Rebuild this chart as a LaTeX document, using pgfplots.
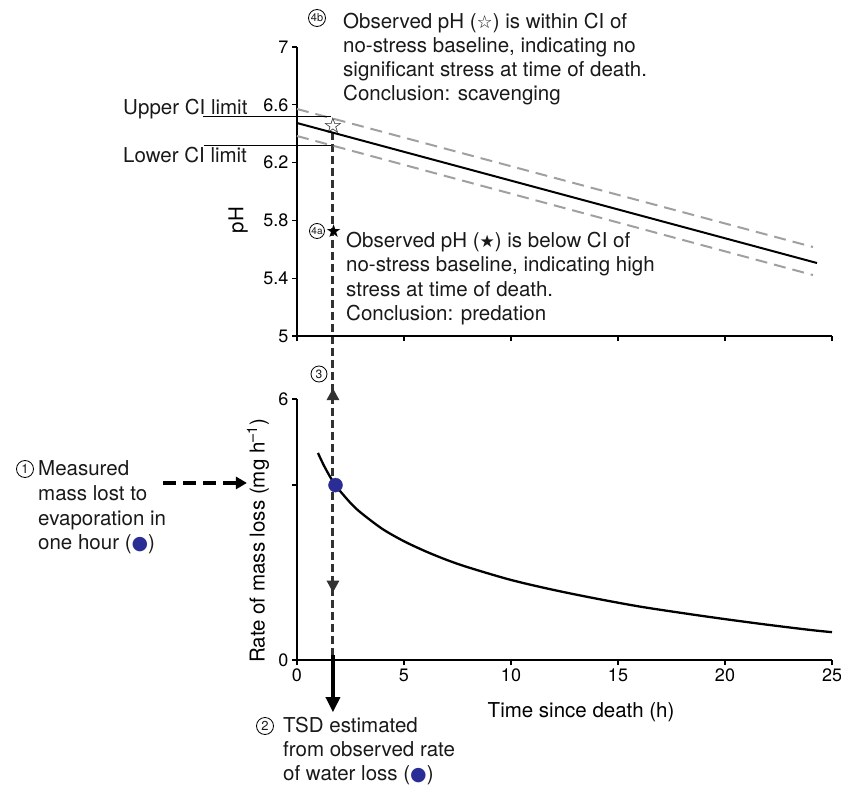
\documentclass[border=0pt]{standalone}
\usepackage{pgfplots}
\pgfplotsset{compat=1.18}
\usepackage{fontspec}
\setmainfont{TeX Gyre Heros}
\newfontfamily\dejavu{DejaVu Sans}
\usetikzlibrary{arrows.meta}
\definecolor{dotblue}{RGB}{43,45,150}
\definecolor{cigray}{RGB}{160,160,160}
\definecolor{dashdark}{RGB}{50,50,50}
\newcommand\txt{\fontsize{20.5}{24}\selectfont}
\newcommand\tk{\fontsize{18}{20}\selectfont}
\pgfplotsset{
  myax/.style={scale only axis, width=535pt, xmin=0, xmax=25,
    axis x line*=bottom, axis y line*=left,
    axis line style={line width=1.3pt, black},
    tick style={line width=1.3pt, black},
    tick align=outside, major tick length=5pt,
    xtick={0,5,10,15,20,25},
    tick label style={font=\tk},
    label style={font=\txt},
    /pgf/number format/assume math mode=true,
    clip=false}
}
\begin{document}
\begin{tikzpicture}
\useasboundingbox (0pt,0pt) rectangle (841pt,-789pt);
% ---------- bottom axis ----------
\begin{axis}[myax, at={(297pt,-660pt)}, anchor=south west, height=261pt, ymin=0, ymax=6,
  xticklabels={0,5,10,15,20,25},
  ytick={0,4.02,6}, yticklabels={0,,6},
  xlabel={Time since death (h)},
  xlabel style={at={(axis description cs:0.531,-0.199)}, anchor=center},
  ylabel={Rate of mass loss (mg h\textsuperscript{–1})},
  ylabel style={at={(axis description cs:-0.073,0.456)}, anchor=center}]
\addplot[dashdark, line width=3pt, dash pattern=on 8pt off 4pt] coordinates {(1.68,12.14) (1.68,0)};
\addplot[dashdark, line width=3pt, -{Triangle[length=12pt,width=12pt]}] coordinates {(1.68,5.95) (1.68,6.25)};
\addplot[dashdark, line width=3pt, -{Triangle[length=12pt,width=12pt]}] coordinates {(1.68,1.85) (1.68,1.55)};
\addplot[black, line width=3.2pt, -{Triangle[length=15pt,width=14pt]}] coordinates {(1.68,0.12) (1.68,-1.2)};
\addplot[black, line width=4pt, dash pattern=on 13pt off 7pt, -{Triangle[length=11pt,width=12pt]}] coordinates {(-6.26,4.07) (-2.34,4.07)};
\addplot[black, line width=2.3pt, smooth] coordinates {
(0.98,4.76) (1.3,4.43) (1.78,4.03) (2.5,3.61) (3,3.38) (4,3.01) (5,2.73)
(6,2.50) (7,2.30) (8,2.13) (10,1.84) (12,1.61) (14,1.41) (16,1.23)
(18,1.08) (20,0.94) (22,0.81) (24,0.69) (25,0.64)};
\addplot[only marks, mark=*, mark size=7pt, color=dotblue, mark options={draw=dotblue, fill=dotblue}] coordinates {(1.80,4.02)};
\end{axis}
% ---------- top axis ----------
\begin{axis}[myax, at={(297pt,-336pt)}, anchor=south west, height=289pt, ymin=5, ymax=7,
  xticklabels={},
  ytick={5,5.4,5.8,6.2,6.6,7}, yticklabels={5,5.4,5.8,6.2,6.6,7},
  ylabel={pH},
  ylabel style={at={(axis description cs:-0.110,0.401)}, anchor=center}]
\addplot[cigray, line width=2pt, dash pattern=on 12pt off 7pt] coordinates {(0,6.571) (24.11,5.616)};
\addplot[cigray, line width=2pt, dash pattern=on 12pt off 7pt] coordinates {(0,6.384) (24.11,5.422)};
\addplot[black, line width=2pt] coordinates {(0,6.474) (24.3,5.505)};
\addplot[black, line width=1pt] coordinates {(-4.39,6.516) (1.59,6.516)};
\addplot[black, line width=1pt] coordinates {(-4.34,6.315) (1.59,6.315)};
\addplot[only marks, black, mark=text, text mark={\dejavu\fontsize{22}{22}\selectfont ☆}] coordinates {(1.68,6.453)};
\addplot[only marks, black, mark=text, text mark={\dejavu\fontsize{18}{18}\selectfont ★}] coordinates {(1.72,5.727)};
\end{axis}
% ---------- annotations ----------
\begin{scope}[x=1pt, y=1pt, every node/.style={anchor=base west, inner sep=0pt, font=\txt, text=black!90}]
\node at (343,-29) {Observed pH ({\dejavu\fontsize{18}{18}\selectfont ☆}) is within CI of};
\node at (343,-53) {no-stress baseline, indicating no};
\node at (343,-77) {significant stress at time of death.};
\node at (343,-101) {Conclusion: scavenging};
\node at (346,-247) {Observed pH ({\dejavu\fontsize{17}{17}\selectfont ★}) is below CI of};
\node at (346,-271) {no-stress baseline, indicating high};
\node at (346,-296) {stress at time of death.};
\node at (346,-320) {Conclusion: predation};
\node at (123,-115) {Upper CI limit};
\node at (123,-163) {Lower CI limit};
\node at (38,-475) {Measured};
\node at (38,-500) {mass lost to};
\node at (38,-525) {evaporation in};
\node at (38,-549) {one hour ({\color{dotblue}\dejavu\fontsize{19}{19}\selectfont ●})};
\node at (283,-732) {TSD estimated};
\node at (283,-756) {from observed rate};
\node at (283,-780) {of water loss ({\color{dotblue}\dejavu\fontsize{19}{19}\selectfont ●})};
\end{scope}
\begin{scope}[x=1pt, y=1pt, every node/.style={draw, circle, line width=0.8pt, inner sep=0pt, text=black!90}]
\node[minimum size=17pt, font=\fontsize{11}{11}\selectfont] at (317,-18) {4b};
\node[minimum size=15pt, font=\fontsize{10}{10}\selectfont] at (317,-231) {4a};
\node[minimum size=16pt, font=\fontsize{12}{12}\selectfont] at (319,-374) {3};
\node[minimum size=17pt, font=\fontsize{13}{13}\selectfont] at (25,-469) {1};
\node[minimum size=17pt, font=\fontsize{13}{13}\selectfont] at (265,-726) {2};
\end{scope}
\end{tikzpicture}
\end{document}
